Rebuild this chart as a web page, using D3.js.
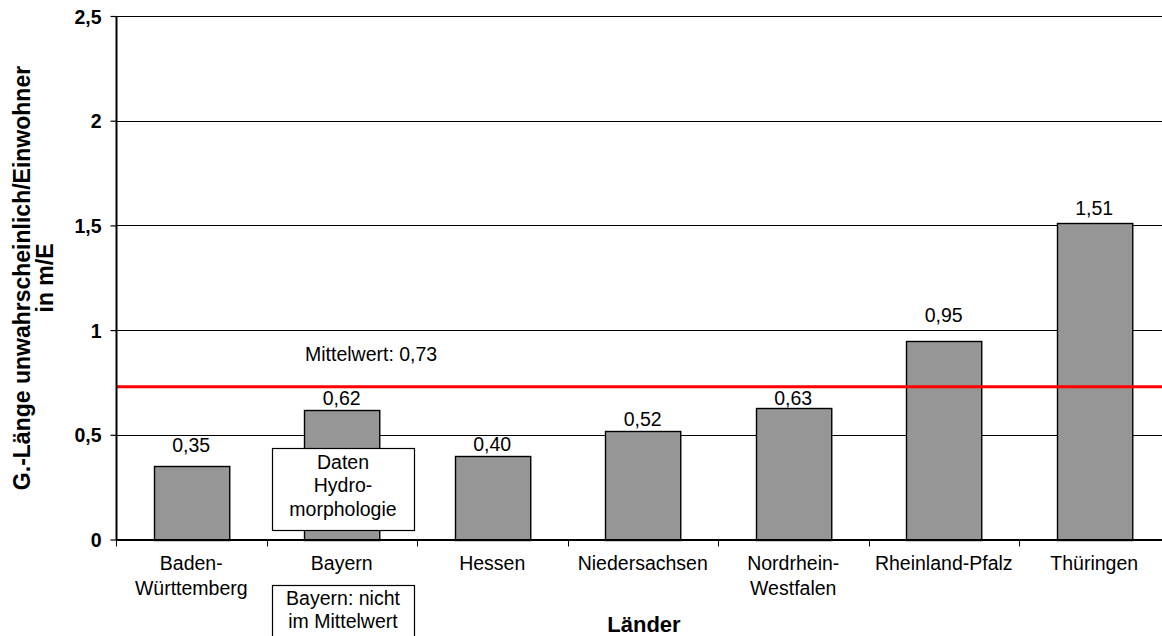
<!DOCTYPE html>
<html>
<head>
<meta charset="utf-8">
<script src="https://cdn.jsdelivr.net/npm/d3@7"></script>
<style>
  html, body { margin: 0; padding: 0; background: #fff; }
  svg { display: block; font-family: "Liberation Sans", Arial, sans-serif; }
</style>
</head>
<body>
<svg id="chart" width="1162" height="636"></svg>
<script>
// Länder and their values (m per inhabitant)
const laender = ["Baden-Württemberg", "Bayern", "Hessen", "Niedersachsen", "Nordrhein-Westfalen", "Rheinland-Pfalz", "Thüringen"];
const labelLines = [["Baden-", "Württemberg"], ["Bayern"], ["Hessen"], ["Niedersachsen"], ["Nordrhein-", "Westfalen"], ["Rheinland-Pfalz"], ["Thüringen"]];
const werte = [0.35, 0.62, 0.40, 0.52, 0.63, 0.95, 1.51];
const mittelwert = 0.73;
const yTicks = [0, 0.5, 1, 1.5, 2, 2.5];

const svg = d3.select("#chart");
const plotLeft = 116, plotTop = 16, plotBottom = 539.5, plotRight = 1169.5;
const FS = 19.5;

// gap between each bar top and its value label
const labelLift = [14, 4.5, 4.5, 5, 3, 18.5, 8];

const fmt = v => d3.format(".2f")(v).replace(".", ",");
const tickFmt = v => String(v).replace(".", ",");

const x = d3.scaleBand().domain(laender).range([plotLeft, plotRight]).paddingInner(0.5).paddingOuter(0.25);
const y = d3.scaleLinear().domain([0, 2.5]).range([plotBottom, plotTop]);

// Horizontal grid lines
svg.append("g").selectAll("line").data(yTicks.filter(t => t > 0)).join("line")
  .attr("x1", plotLeft).attr("x2", 1162)
  .attr("y1", d => Math.round(y(d)) + 0.5).attr("y2", d => Math.round(y(d)) + 0.5)
  .attr("stroke", "#000").attr("stroke-width", 1);

// Bars
svg.append("g").selectAll("rect").data(werte).join("rect")
  .attr("x", (d, i) => Math.round(x(laender[i])) + 0.5)
  .attr("y", d => Math.round(y(d)) + 0.5)
  .attr("width", x.bandwidth())
  .attr("height", d => Math.round(y(0)) - Math.round(y(d)))
  .attr("fill", "#969696").attr("stroke", "#000").attr("stroke-width", 1.4);

// Value labels
svg.append("g").selectAll("text").data(werte).join("text")
  .attr("x", (d, i) => x(laender[i]) + x.bandwidth() / 2)
  .attr("y", (d, i) => y(d) - labelLift[i])
  .attr("text-anchor", "middle").attr("font-size", FS).attr("fill", "#000")
  .text(d => fmt(d));

// Mean line
svg.append("line")
  .attr("x1", plotLeft).attr("x2", 1162)
  .attr("y1", y(mittelwert)).attr("y2", y(mittelwert))
  .attr("stroke", "#ff0000").attr("stroke-width", 3);
svg.append("text").attr("x", 305).attr("y", 360.5).attr("font-size", FS).text("Mittelwert: " + fmt(mittelwert));

// Y axis
const yAxis = svg.append("g").attr("transform", `translate(${plotLeft + 0.5},0)`)
  .call(d3.axisLeft(y).tickValues(yTicks).tickFormat(tickFmt).tickSize(6).tickPadding(8));
yAxis.select(".domain").attr("stroke", "#000").attr("stroke-width", 2).attr("d", `M0,${plotTop}V${plotBottom}`);
yAxis.selectAll(".tick line").attr("stroke", "#000").attr("stroke-width", 1.2);
yAxis.selectAll(".tick text").attr("font-size", FS).attr("font-weight", "bold")
  .attr("font-family", "Liberation Sans, Arial, sans-serif").attr("fill", "#000").attr("x", -15).attr("dy", "0.36em");

// X axis with boundary ticks
svg.append("line").attr("x1", plotLeft).attr("x2", 1162).attr("y1", plotBottom + 0.5).attr("y2", plotBottom + 0.5)
  .attr("stroke", "#000").attr("stroke-width", 2);
const step = x.step();
const boundaries = d3.range(laender.length + 1).map(i => x(laender[0]) - step * 0.25 + i * step);
svg.append("g").selectAll("line").data(boundaries).join("line")
  .attr("x1", d => Math.round(d) + 0.5).attr("x2", d => Math.round(d) + 0.5)
  .attr("y1", plotBottom).attr("y2", plotBottom + 7)
  .attr("stroke", "#000").attr("stroke-width", 1);

// Category labels
const catG = svg.append("g");
labelLines.forEach((lines, i) => {
  const cx = x(laender[i]) + x.bandwidth() / 2;
  const t = catG.append("text").attr("x", cx).attr("y", 570).attr("text-anchor", "middle").attr("font-size", FS);
  lines.forEach((l, j) => t.append("tspan").attr("x", cx).attr("dy", j === 0 ? 0 : 25).text(l));
});

// Axis titles
svg.append("text").attr("x", 644).attr("y", 631.5).attr("text-anchor", "middle")
  .attr("font-size", 22).attr("font-weight", "bold").text("Länder");
const yt = svg.append("text").attr("transform", "translate(0,278) rotate(-90)")
  .attr("text-anchor", "middle").attr("font-size", 23).attr("font-weight", "bold");
yt.append("tspan").attr("x", 0).attr("y", 30).text("G.-Länge unwahrscheinlich/Einwohner");
yt.append("tspan").attr("x", 0).attr("y", 53).text("in m/E");

// Annotation boxes
function note(x0, y0, w, h, lines, firstBase, lh) {
  const g = svg.append("g");
  g.append("rect").attr("x", x0 + 0.5).attr("y", y0 + 0.5).attr("width", w).attr("height", h)
    .attr("fill", "#fff").attr("stroke", "#000").attr("stroke-width", 1.2);
  const t = g.append("text").attr("text-anchor", "middle").attr("font-size", FS);
  lines.forEach((l, j) => t.append("tspan").attr("x", x0 + w / 2).attr("y", firstBase + j * lh).text(l));
}
note(272, 448, 142, 82, ["Daten", "Hydro-", "morphologie"], 468.5, 23.5);
note(272, 585, 142, 60, ["Bayern: nicht", "im Mittelwert"], 605, 23);
</script>
</body>
</html>
